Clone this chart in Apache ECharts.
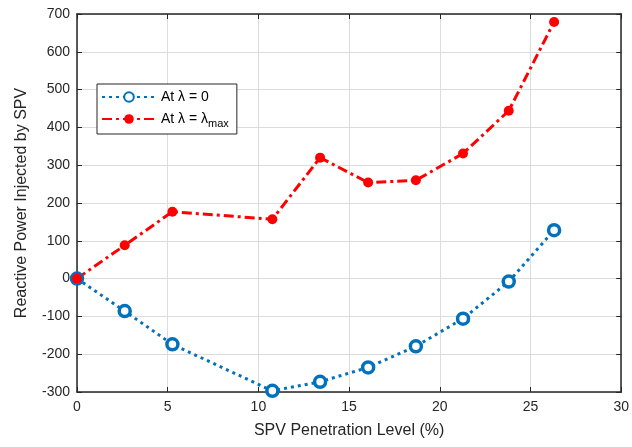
<!DOCTYPE html>
<html>
<head>
<meta charset="utf-8">
<script src="https://cdn.jsdelivr.net/npm/echarts@6/dist/echarts.min.js"></script>
<style>
  html, body { margin: 0; padding: 0; background: #fff; }
  #chart { width: 632px; height: 447px; }
</style>
</head>
<body>
<div id="chart"></div>
<script>
const penetration = [0, 2.63, 5.26, 10.77, 13.4, 16.05, 18.68, 21.28, 23.8, 26.3]
const qLambda0 = [0, -86, -174, -297, -273, -235, -179, -106, -8, 128]
const qLambdaMax = [0, 88, 177, 157, 320, 254, 260, 331, 444, 679]

const axisColor = '#262626'
const font = 'Liberation Sans, Arial, sans-serif'

const chart = echarts.init(document.getElementById('chart'))

const frameAxis = {
  axisLine: { show: true, onZero: false, lineStyle: { color: axisColor, width: 1.5 } },
  axisTick: { show: true, inside: true, length: 5, lineStyle: { color: axisColor } },
  axisLabel: { show: false },
  splitLine: { show: false },
}

chart.setOption({
  animation: false,
  grid: { left: 77, right: 9, top: 14, bottom: 55 },
  legend: {
    orient: 'vertical',
    left: 97, top: 84,
    padding: [6, 8, 5, 4],
    itemGap: 8,
    itemWidth: 54, itemHeight: 12,
    backgroundColor: '#fff',
    borderColor: axisColor, borderWidth: 1,
    textStyle: {
      fontFamily: font, fontSize: 14, color: '#000',
      rich: { sub: { fontFamily: font, fontSize: 11, verticalAlign: 'bottom', padding: [9, 0, 0, 0] } },
    },
    formatter: name => name === 'max' ? 'At \u03bb = \u03bb{sub|max}' : 'At \u03bb = 0',
    data: ['zero', 'max'],
  },
  xAxis: [{
    type: 'value', min: 0, max: 30, interval: 5,
    name: 'SPV Penetration Level (%)', nameLocation: 'middle', nameGap: 31,
    nameTextStyle: { fontFamily: font, fontSize: 16, color: axisColor },
    axisLine: { show: true, onZero: false, lineStyle: { color: axisColor, width: 1.5 } },
    axisTick: { show: true, inside: true, length: 5, lineStyle: { color: axisColor } },
    axisLabel: { fontFamily: font, fontSize: 14, color: axisColor, margin: 8 },
    splitLine: { show: true, lineStyle: { color: '#dcdcdc' } },
  }, {
    type: 'value', min: 0, max: 30, interval: 5, position: 'top', ...frameAxis,
  }],
  yAxis: [{
    type: 'value', min: -300, max: 700, interval: 100,
    name: 'Reactive Power Injected by SPV', nameLocation: 'middle', nameGap: 47,
    nameTextStyle: { fontFamily: font, fontSize: 16, color: axisColor },
    axisLine: { show: true, onZero: false, lineStyle: { color: axisColor, width: 1.5 } },
    axisTick: { show: true, inside: true, length: 5, lineStyle: { color: axisColor } },
    axisLabel: { fontFamily: font, fontSize: 14, color: axisColor, margin: 7 },
    splitLine: { show: true, lineStyle: { color: '#dcdcdc' } },
  }, {
    type: 'value', min: -300, max: 700, interval: 100, position: 'right', ...frameAxis,
  }],
  series: [{
    name: 'zero',
    type: 'line',
    data: penetration.map((x, i) => [x, qLambda0[i]]),
    symbol: 'circle', symbolSize: 11,
    lineStyle: { color: '#0072bd', width: 3, type: [3, 4] },
    itemStyle: { color: '#fff', borderColor: '#0072bd', borderWidth: 3.5 },
  }, {
    name: 'max',
    type: 'line',
    data: penetration.map((x, i) => [x, qLambdaMax[i]]),
    symbol: 'circle', symbolSize: 10,
    lineStyle: { color: '#ff0000', width: 3, type: [10, 4, 3, 4] },
    itemStyle: { color: '#ff0000' },
  }],
})
</script>
</body>
</html>
